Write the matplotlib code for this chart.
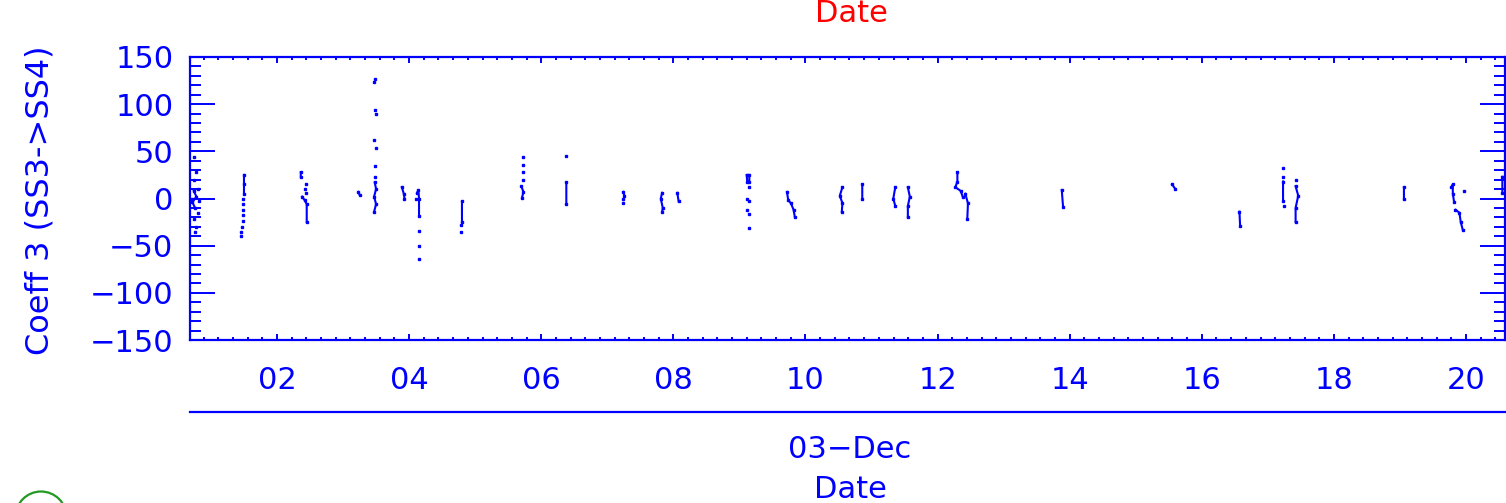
import numpy as np
from matplotlib import pyplot as plt
from matplotlib.lines import Line2D
from matplotlib.patches import Ellipse
from matplotlib.ticker import AutoMinorLocator

nan = np.nan

# hours since 03-Dec 00:00, nan separates the short strands
hours = [0.74, 0.78, 0.72, 0.76, nan,
         1.50, 1.50, 1.50, nan,
         2.36, 2.36, nan, 2.38, 2.42, 2.45, 2.45, nan,
         3.23, 3.25, nan,
         3.48, 3.50, 3.47, 3.50, 3.47, nan,
         3.89, 3.92, 3.93, nan,
         4.12, 4.14, 4.15, 4.15, nan,
         4.80, 4.80, nan,
         5.70, 5.73, 5.71, nan,
         6.38, 6.38, nan,
         7.24, 7.26, nan,
         7.83, 7.81, 7.84, 7.83, nan,
         8.06, 8.08, nan,
         9.11, 9.12, 9.15, 9.15, nan,
         9.72, 9.74, 9.78, 9.82, 9.84, nan,
         10.56, 10.52, 10.56, 10.55, nan,
         10.86, 10.86, nan,
         11.36, 11.33, 11.36, nan,
         11.55, 11.58, 11.55, 11.55, nan,
         12.30, 12.30, 12.27, 12.35, 12.38, nan,
         12.42, 12.46, 12.45, nan,
         13.88, 13.90, nan,
         15.55, 15.60, nan,
         16.57, 16.58, nan,
         17.23, 17.23, nan,
         17.42, 17.46, 17.42, 17.42, nan,
         19.06, 19.06, nan,
         19.78, 19.80, 19.80, 19.82, nan,
         19.84, 19.90, 19.92, 19.95, nan,
         20.55, 20.55]
coeff3 = [8, 2, -4, -10, nan,
          25, 15, 5, nan,
          28, 23, nan, 2, -2, -6, -25, nan,
          7, 4, nan,
          17, 10, 2, -6, -14, nan,
          12, 5, 0, nan,
          6, 9, 0, -19, nan,
          -3, -25, nan,
          13, 7, 1, nan,
          17, -6, nan,
          7, 3, nan,
          6, 0, -10, -14, nan,
          6, -3, nan,
          25, 17, 17, 25, nan,
          7, -2, -5, -12, -20, nan,
          12, 3, -5, -14, nan,
          15, -1, nan,
          12, 0, -8, nan,
          12, 2, -8, -20, nan,
          28, 18, 12, 8, 2, nan,
          5, -5, -22, nan,
          9, -9, nan,
          15, 10, nan,
          -14, -29, nan,
          18, -3, nan,
          13, 3, -10, -25, nan,
          12, -1, nan,
          12, 15, 5, -4, nan,
          -12, -15, -25, -33, nan,
          23, 6]

# isolated samples
dot_hours = [0.75, 0.77, 0.74, 0.80, 0.72, 0.82, 0.80, 0.74, 0.78, 0.76,
             1.49, 1.49, 1.49, 1.48, 1.48, 1.47, 1.46, 1.46,
             2.44, 2.42, 2.44,
             3.49, 3.47, 3.48, 3.50, 3.47, 3.50, 3.48, 3.48,
             4.10, 4.15, 4.15, 4.15,
             4.78, 4.78,
             5.72, 5.72, 5.72, 5.72,
             6.38,
             7.24, 7.24,
             9.15, 9.11, 9.15, 9.11, 9.15, 9.15,
             17.23, 17.23, 17.25, 17.42,
             19.97]
dot_vals = [44, 28, 20, 10, 0, -3, -15, -22, -30, -36,
            0, -6, -12, -18, -24, -30, -36, -40,
            15, 10, 6,
            127, 124, 94, 90, 62, 54, 34, 23,
            -1, -34, -50, -64,
            -28, -35,
            44, 36, 28, 20,
            45,
            -1, -5,
            12, 0, -3, -12, -16, -31,
            32, 23, -8, 20,
            8]

xticks = [2, 4, 6, 8, 10, 12, 14, 16, 18, 20]
xtick_labels = ['02', '04', '06', '08', '10', '12', '14', '16', '18', '20']
yticks = [-150, -100, -50, 0, 50, 100, 150]

BLUE = '#0000ff'
W, H = 1506, 503

plt.rcParams['font.family'] = ['DejaVu Sans']

fig = plt.figure(figsize=(W / 100, H / 100), dpi=100)
ax = fig.add_axes([190 / W, 1 - 340 / H, 1315 / W, 283 / H])

ax.plot(hours, coeff3, ls='-', lw=1.5, marker='s', ms=1.8, color=BLUE)
ax.plot(dot_hours, dot_vals, ls='none', marker='s', ms=1.9, color=BLUE)

ax.set_xlim(0.683, 20.59)
ax.set_ylim(-150, 150)
ax.set_xticks(xticks)
ax.set_xticklabels(xtick_labels)
ax.set_yticks(yticks)
ax.xaxis.set_minor_locator(AutoMinorLocator(9))
ax.yaxis.set_minor_locator(AutoMinorLocator(5))

for s in ax.spines.values():
    s.set_color(BLUE)
    s.set_linewidth(1.6)

ax.tick_params(which='both', direction='in', top=True, right=True,
               colors=BLUE, labelsize=22, width=1.4)
ax.tick_params(axis='x', which='major', length=4.5, pad=19)
ax.tick_params(axis='x', which='minor', length=2.5)
ax.tick_params(axis='y', which='major', length=18, pad=12)
ax.tick_params(axis='y', which='minor', length=8)

# title, axis labels and the date row under the plot
fig.text(851 / W, 1 - 14 / H, 'Date', color='#ff0000', fontsize=22,
         ha='center', va='center')
fig.text(40 / W, 1 - 200 / H, 'Coeff 3 (SS3->SS4)', color=BLUE, fontsize=23,
         rotation=90, ha='center', va='center')
fig.add_artist(Line2D([190 / W, 1.0], [1 - 412 / H] * 2,
                      transform=fig.transFigure, color=BLUE, lw=1.6))
fig.text(850 / W, 1 - 450 / H, '03\u2212Dec', color=BLUE, fontsize=22,
         ha='center', va='center')
fig.text(850 / W, 1 - 490 / H, 'Date', color=BLUE, fontsize=22,
         ha='center', va='center')

# top of the next panel's symbol peeking in at the bottom left
fig.add_artist(Ellipse((41 / W, 1 - 517 / H), 51 / W, 51 / H,
                       transform=fig.transFigure, fill=False,
                       ec='#229922', lw=1.6))

fig.savefig('out.png', dpi=100)
